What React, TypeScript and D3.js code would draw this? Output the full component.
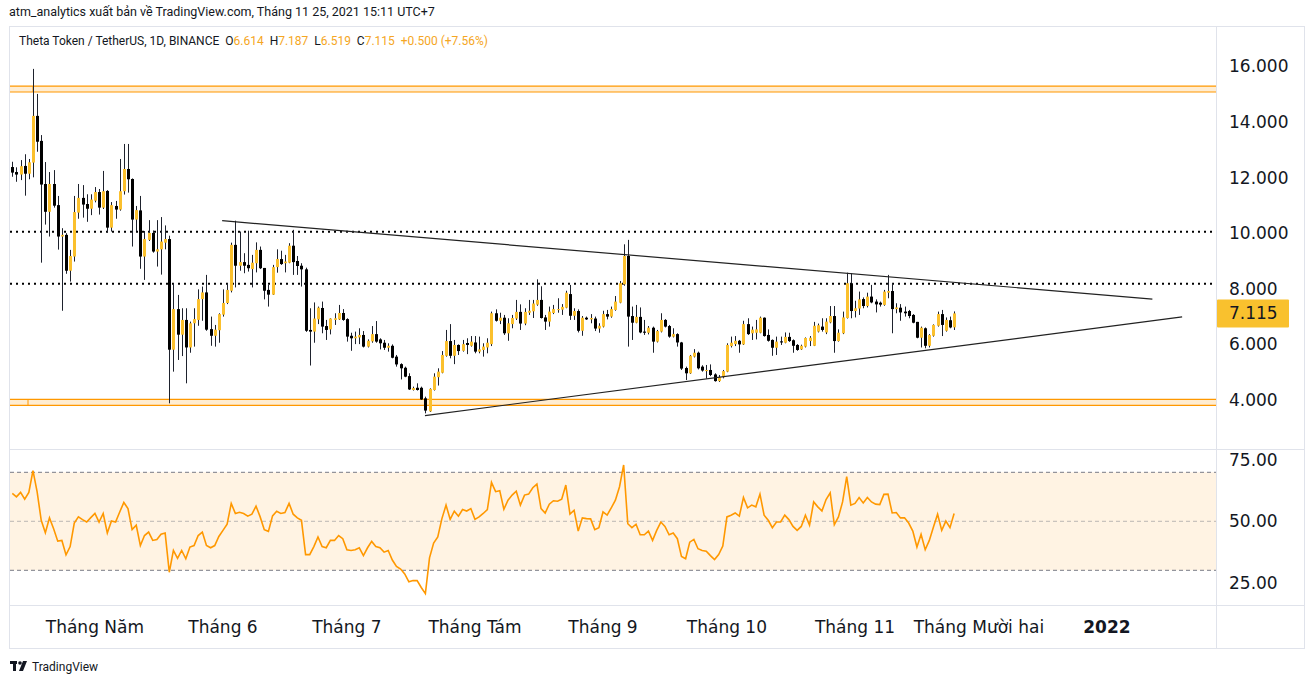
import React, { useEffect, useRef } from 'react';
import * as d3 from 'd3';

const START = Date.UTC(2021, 3, 11);
const DAY = 86400000;

// [open, high, low, close]
const ohlc: [number, number, number, number][] = [
  [12.38,12.57,12.03,12.18],[12.20,12.37,11.85,12.11],[12.11,12.63,11.91,12.41],[12.42,12.84,11.35,12.14],[12.14,12.67,11.94,12.55],
  [12.54,15.91,12.01,14.22],[14.22,15.01,12.93,13.29],[13.32,13.53,8.94,11.75],[11.77,12.56,10.31,10.77],[10.77,12.20,9.88,11.77],
  [11.77,12.27,10.92,10.99],[11.01,11.34,9.41,9.88],[9.88,10.18,7.21,9.94],[9.94,10.00,8.54,8.65],[8.65,9.40,8.26,9.18],
  [9.16,11.34,8.98,10.76],[10.74,11.77,10.52,11.27],[11.27,11.73,10.56,11.03],[11.05,11.40,10.41,10.88],[10.88,11.40,10.65,11.21],
  [11.17,11.66,11.11,11.48],[11.48,11.59,10.67,10.92],[10.92,12.24,10.87,11.51],[11.52,11.55,10.03,10.20],[10.20,11.12,10.06,11.01],
  [10.98,11.16,10.52,10.85],[10.85,12.67,10.81,11.51],[11.51,13.21,11.39,12.31],[12.31,13.21,11.46,11.94],[11.95,11.97,9.52,10.49],
  [10.49,10.98,10.07,10.83],[10.82,11.34,8.72,9.16],[9.16,10.08,8.32,9.79],[9.76,10.47,9.72,10.01],[10.01,10.10,9.30,9.34],
  [9.34,10.47,8.80,9.42],[9.42,10.58,8.51,9.70],[9.66,10.28,9.42,9.79],[9.79,9.91,3.88,5.81],[5.81,8.20,5.02,7.27],
  [7.27,7.78,5.44,6.35],[6.35,7.30,5.58,6.88],[6.88,7.30,4.60,5.89],[5.89,6.82,5.70,6.76],[6.76,7.30,5.92,6.91],
  [6.88,7.98,6.67,7.63],[7.63,8.08,6.85,7.87],[7.87,8.50,6.49,6.53],[6.55,7.00,5.95,6.31],[6.31,6.70,5.92,6.53],
  [6.51,7.12,6.06,7.09],[7.07,7.98,7.00,7.49],[7.49,8.20,7.45,7.96],[7.93,9.66,7.87,9.58],[9.58,10.45,8.05,8.83],
  [8.83,10.06,8.65,8.96],[8.96,9.28,8.56,8.83],[8.86,10.09,8.62,8.74],[8.71,9.22,8.05,8.94],[8.92,9.67,8.59,9.40],
  [9.40,9.52,8.71,8.74],[8.75,8.75,7.62,7.93],[7.96,8.14,7.36,7.79],[7.79,8.86,7.78,8.78],[8.78,9.42,8.58,9.07],
  [9.07,9.37,8.86,8.89],[8.92,9.22,8.59,8.98],[8.94,9.64,8.92,9.55],[9.55,10.12,8.50,8.96],[9.00,9.18,8.50,8.82],
  [8.83,8.92,8.08,8.70],[8.70,8.76,6.45,6.49],[6.52,7.30,5.24,6.46],[6.46,7.51,6.06,6.93],[6.90,7.36,6.73,7.32],
  [7.31,7.54,6.40,6.64],[6.66,6.88,6.16,6.52],[6.54,6.94,6.36,6.93],[6.88,7.12,6.70,6.94],[6.90,7.42,6.88,7.13],
  [7.13,7.27,6.85,6.88],[6.91,6.94,6.10,6.28],[6.31,6.42,5.77,6.22],[6.22,6.46,6.01,6.28],[6.25,6.58,6.01,6.34],
  [6.34,6.48,5.89,5.92],[5.92,6.18,5.89,6.13],[6.11,6.66,6.06,6.37],[6.37,6.84,6.06,6.10],[6.18,6.22,5.82,6.04],
  [6.06,6.16,5.80,5.88],[5.88,6.04,5.74,5.95],[5.95,6.00,5.50,5.52],[5.56,5.62,5.20,5.28],[5.29,5.32,4.74,5.14],
  [5.16,5.20,4.82,4.84],[4.86,4.96,4.36,4.38],[4.36,4.48,4.34,4.43],[4.44,4.60,4.34,4.36],[4.44,4.48,4.00,4.02],
  [4.06,4.12,3.52,3.62],[3.59,4.42,3.57,4.40],[4.36,4.96,4.34,4.84],[4.82,5.14,4.52,5.02],[4.98,5.76,4.96,5.62],
  [5.59,6.52,5.56,6.12],[6.12,6.73,5.50,5.59],[5.59,6.16,5.29,5.98],[5.98,6.00,5.62,5.76],[5.77,6.16,5.74,6.01],
  [6.05,6.22,5.65,5.98],[5.95,6.30,5.92,6.10],[6.07,6.30,5.68,5.74],[5.74,6.28,5.68,5.82],[5.80,6.04,5.56,5.92],
  [5.89,6.22,5.68,6.06],[6.01,7.18,5.94,7.12],[7.12,7.26,6.82,6.85],[6.85,7.14,6.73,6.96],[6.96,7.06,6.34,6.40],
  [6.40,6.94,6.13,6.76],[6.73,7.06,6.58,6.95],[6.93,7.60,6.88,7.17],[7.17,7.44,6.52,6.75],[6.75,7.30,6.69,7.17],
  [7.14,7.60,7.06,7.21],[7.19,7.60,6.95,7.47],[7.43,8.34,7.39,7.60],[7.60,8.09,6.93,6.95],[6.97,7.06,6.52,6.82],
  [6.82,7.36,6.64,7.18],[7.13,7.42,7.09,7.27],[7.24,7.66,7.14,7.27],[7.25,7.45,7.06,7.35],[7.32,7.93,7.30,7.86],
  [7.81,8.14,6.88,7.03],[7.03,7.30,6.88,7.20],[7.20,7.26,6.43,6.49],[6.49,7.02,6.31,6.96],[6.96,7.00,6.88,6.90],
  [6.90,7.09,6.76,6.95],[6.93,7.00,6.48,6.57],[6.57,6.76,6.42,6.67],[6.64,7.21,6.61,7.09],[7.09,7.24,6.90,7.00],
  [7.00,7.36,6.96,7.27],[7.24,7.74,7.21,7.54],[7.50,8.28,7.48,8.20],[8.16,9.60,8.11,9.18],[9.18,9.76,5.92,7.00],
  [7.02,7.36,6.16,6.78],[6.78,7.42,6.76,6.99],[6.99,7.33,6.40,6.43],[6.46,6.88,6.34,6.42],[6.42,6.66,6.36,6.60],
  [6.60,6.64,5.70,6.10],[6.10,6.52,6.07,6.48],[6.46,7.12,6.43,6.88],[6.88,6.91,6.61,6.64],[6.66,6.70,6.24,6.28],
  [6.28,6.58,6.25,6.37],[6.37,6.40,5.92,6.07],[6.07,6.09,5.08,5.13],[5.15,5.20,4.72,4.96],[4.96,5.62,4.94,5.59],
  [5.56,5.83,5.53,5.70],[5.70,5.74,5.10,5.14],[5.20,5.25,5.02,5.06],[5.04,5.26,4.77,5.08],[5.08,5.28,4.86,4.90],
  [4.92,4.96,4.66,4.68],[4.68,4.90,4.65,4.82],[4.82,5.08,4.78,5.04],[5.02,6.04,5.00,5.98],[5.94,6.28,5.89,6.06],
  [6.01,6.30,5.94,6.13],[6.13,6.16,5.70,6.00],[6.00,6.85,5.98,6.73],[6.73,6.94,6.34,6.37],[6.40,6.64,6.16,6.53],
  [6.42,6.88,6.18,6.54],[6.42,7.00,6.40,6.96],[6.96,6.97,6.28,6.30],[6.34,6.54,6.10,6.13],[6.16,6.18,5.59,5.88],
  [5.88,6.28,5.62,6.10],[6.11,6.28,5.98,6.07],[6.06,6.43,6.04,6.27],[6.27,6.42,6.09,6.12],[6.15,6.18,5.70,5.95],
  [5.98,6.01,5.77,5.80],[5.82,5.99,5.80,5.95],[5.92,6.25,5.89,6.23],[6.12,6.30,5.94,6.24],[5.95,6.81,5.94,6.67],
  [6.46,6.75,6.43,6.69],[6.64,6.94,6.46,6.52],[6.43,6.94,6.37,6.82],[6.79,7.38,6.76,7.02],[7.02,7.38,5.70,6.12],
  [6.12,6.54,6.10,6.42],[6.40,7.18,6.37,6.97],[6.95,8.58,6.93,8.20],[8.20,8.56,6.94,7.20],[7.20,7.57,6.97,7.30],
  [7.29,7.90,7.06,7.62],[7.63,7.69,7.30,7.38],[7.38,7.86,7.33,7.72],[7.72,8.14,7.48,7.51],[7.54,7.62,7.15,7.44],
  [7.50,7.54,7.36,7.43],[7.42,7.96,7.39,7.90],[7.86,8.50,7.66,7.92],[7.92,8.20,6.40,7.27],[7.27,7.48,7.12,7.33],
  [7.32,7.45,6.85,7.15],[7.18,7.36,7.00,7.12],[7.20,7.24,6.94,7.02],[7.06,7.09,6.76,6.78],[6.81,6.81,6.22,6.24],
  [6.24,6.64,5.89,6.60],[6.58,6.61,5.86,5.95],[5.95,6.37,5.89,6.34],[6.31,6.72,6.28,6.70],[6.67,7.18,6.64,7.09],
  [7.09,7.24,6.30,6.70],[6.49,6.97,6.46,6.88],[6.87,7.00,6.58,6.61],[6.614,7.187,6.519,7.115],
];

const rsi: number[] = [
  61.4,60.0,61.8,59.0,61.8,70.7,62.1,50.4,45.3,51.4,
  47.0,41.9,42.2,36.3,39.7,49.3,51.8,50.7,49.7,51.5,
  53.2,49.7,53.2,45.2,50.1,49.7,53.8,57.7,55.2,46.6,
  48.4,40.1,44.2,45.6,42.2,42.6,44.7,45.2,29.2,38.1,
  34.9,38.1,34.7,39.5,40.1,44.2,45.6,40.1,39.2,40.1,
  43.8,46.3,48.8,57.3,53.2,53.7,53.2,52.1,52.9,56.2,
  51.8,46.6,45.9,52.2,54.1,53.2,53.6,57.3,52.9,51.4,
  50.4,36.4,36.4,39.7,43.6,39.7,39.2,42.2,42.2,44.2,
  42.9,38.4,38.1,38.4,39.2,36.0,39.2,41.8,39.7,39.2,
  37.4,38.1,34.2,31.6,30.5,28.5,25.3,25.8,25.8,23.0,
  20.5,35.1,41.1,43.6,51.1,56.6,50.8,54.1,52.1,54.8,
  54.2,55.2,50.8,51.8,53.2,54.8,65.9,62.1,62.5,54.9,
  58.6,60.7,62.3,56.6,60.7,61.1,63.7,65.2,55.2,53.4,
  57.0,58.4,58.2,59.0,64.8,52.9,54.5,46.0,51.4,51.1,
  51.0,46.6,47.4,53.8,52.5,55.5,58.6,64.1,73.0,49.0,
  47.4,48.8,44.5,44.5,46.0,42.2,46.3,
  49.7,47.9,44.5,45.2,42.9,35.6,34.7,41.5,42.6,38.8,
  38.1,37.8,36.0,34.4,36.4,39.9,51.8,52.5,53.4,52.1,
  59.7,55.5,56.6,55.9,61.1,52.5,50.4,47.4,49.7,49.7,
  52.5,50.7,47.9,46.3,47.9,52.5,48.4,57.9,55.9,54.2,
  58.9,61.6,48.6,51.8,57.9,68.2,56.6,57.3,59.7,57.5,
  59.7,57.9,57.0,56.8,61.0,61.1,53.4,53.6,51.4,51.4,
  49.3,46.0,39.5,44.7,38.4,42.2,47.7,52.9,46.3,50.1,
  47.4,53.2,
];

const priceTicks = [4, 6, 8, 10, 12, 14, 16];
const rsiTicks = [25, 50, 75];
const rsiBands = [70, 50, 30];
const monthLabels = ['Tháng Năm', 'Tháng 6', 'Tháng 7', 'Tháng Tám', 'Tháng 9', 'Tháng 10', 'Tháng 11', 'Tháng Mười hai', '2022'];
const monthDates = [
  Date.UTC(2021, 4, 1), Date.UTC(2021, 5, 1), Date.UTC(2021, 6, 1), Date.UTC(2021, 7, 1), Date.UTC(2021, 8, 1),
  Date.UTC(2021, 9, 1), Date.UTC(2021, 10, 1), Date.UTC(2021, 11, 1), Date.UTC(2022, 0, 1),
];
// zones: [top price, bottom price, start day index]
const zones: [number, number, number][] = [[15.29, 15.08, 5], [4.025, 3.81, 3.8]];
const dottedLevels = [10.05, 8.18];
// trend lines: [day1, price1, day2, price2]
const trendLines: [number, number, number, number][] = [
  [50.8, 10.45, 276, 7.63],
  [99.9, 3.44, 283.2, 6.99],
];
const lastPrice = 7.115;

const UP = '#fbc02d';
const DOWN = '#000000';
const GRID = '#e0e3eb';
const TEXT = '#131722';
const FONT = 'Roboto, "Noto Sans", sans-serif';
const AXISFONT = '"DejaVu Sans", Verdana, sans-serif';

const L = 10, R = 1216, PT = 27, PB = 449, RT = 450, RB = 605, AB = 648, CR = 1304;

export default function App() {
  const axisRef = useRef<SVGGElement>(null);
  const x = d3.scaleUtc()
    .domain([new Date(START - 0.56 * DAY), new Date(START + 291.4 * DAY)])
    .range([L, R]);
  const y = d3.scaleLinear().domain([4, 16]).range([400, 66.4]);
  const ry = d3.scaleLinear().domain([30, 70]).range([570.3, 472.3]);
  const dx = (i: number) => x(new Date(START + i * DAY));

  const rsiLine = d3.line<number>().x((_, i) => dx(i)).y((v) => ry(v));

  useEffect(() => {
    if (!axisRef.current) return;
    const texts = d3.select(axisRef.current).selectAll<SVGTextElement, unknown>('text').nodes();
    let prevRight = -Infinity;
    texts.forEach((t) => {
      const b = t.getBBox();
      if (b.x < prevRight + 12) {
        const shift = prevRight + 12 - b.x;
        t.setAttribute('x', String(parseFloat(t.getAttribute('x') || '0') + shift));
        prevRight = b.x + shift + b.width;
      } else prevRight = b.x + b.width;
    });
  }, []);

  return (
    <svg width={1314} height={685} style={{ position: 'absolute', left: 0, top: 0, background: '#fff' }} fontFamily={FONT}>
      <defs>
        <clipPath id="pp"><rect x={L} y={PT} width={R - L} height={PB - PT} /></clipPath>
        <clipPath id="rp"><rect x={L} y={RT} width={R - L} height={RB - RT} /></clipPath>
      </defs>
      <text x={9} y={16} fontSize={12.5} fill={TEXT}>atm_analytics xuất bản về TradingView.com, Tháng 11 25, 2021 15:11 UTC+7</text>

      {/* frame */}
      <rect x={9.5} y={26.5} width={CR - 9} height={AB - 26} fill="none" stroke={GRID} />
      <line x1={R + 0.5} x2={R + 0.5} y1={PT} y2={AB} stroke={GRID} />
      <line x1={L} x2={CR} y1={PB + 0.5} y2={PB + 0.5} stroke={GRID} />
      <line x1={L} x2={CR} y1={RB + 0.5} y2={RB + 0.5} stroke={GRID} />

      {/* price pane */}
      <g clipPath="url(#pp)">
        {zones.map(([t, b, s], k) => (
          <g key={k}>
            <rect x={L} y={y(t)} width={R - L} height={y(b) - y(t)} fill="#ffe9c7" opacity={0.8} />
            <line x1={L} x2={R} y1={y(t)} y2={y(t)} stroke="#ff9800" strokeWidth={1.2} />
            <line x1={L} x2={R} y1={y(b)} y2={y(b)} stroke="#ff9800" strokeWidth={1.2} />
            <line x1={dx(s)} x2={dx(s)} y1={y(t)} y2={y(b)} stroke="#ff9800" strokeWidth={1} />
          </g>
        ))}
        {dottedLevels.map((p, k) => (
          <line key={k} x1={L} x2={R} y1={y(p)} y2={y(p)} stroke="#000" strokeWidth={2} strokeDasharray="2 4" />
        ))}
        {ohlc.map(([o, h, l, c], i) => {
          const cx = Math.round(dx(i));
          const up = c >= o;
          const top = y(Math.max(o, c));
          const bot = y(Math.min(o, c));
          return (
            <g key={i}>
              <line x1={cx + 0.5} x2={cx + 0.5} y1={y(h)} y2={y(l)} stroke="#1e222d" strokeWidth={1} />
              <rect x={cx - 1} y={top} width={3} height={Math.max(1, bot - top)} fill={up ? UP : DOWN} />
            </g>
          );
        })}
        {trendLines.map(([d1, p1, d2, p2], k) => (
          <line key={k} x1={dx(d1)} y1={y(p1)} x2={dx(d2)} y2={y(p2)} stroke="#222" strokeWidth={1.2} />
        ))}
      </g>

      {/* legend */}
      <g fontSize={12}>
        <text x={19} y={45} fill={TEXT}>
          Theta Token / TetherUS, 1D, BINANCE{'\u00a0\u00a0'}O<tspan fill="#f5a623">6.614</tspan>{'\u00a0\u00a0'}H<tspan fill="#f5a623">7.187</tspan>{'\u00a0\u00a0'}L<tspan fill="#f5a623">6.519</tspan>{'\u00a0\u00a0'}C<tspan fill="#f5a623">7.115</tspan>{'\u00a0\u00a0'}<tspan fill="#f5a623">+0.500 (+7.56%)</tspan>
        </text>
      </g>

      {/* price axis */}
      <g fontSize={17} fill={TEXT} fontFamily={AXISFONT}>
        {priceTicks.map((p) => (
          <text key={p} x={1229} y={y(p)} dy="0.35em">{p.toFixed(3)}</text>
        ))}
        <rect x={R + 1} y={y(lastPrice) - 14} width={72} height={28} fill="#f9c12e" rx={1} />
        <text x={1229} y={y(lastPrice)} dy="0.35em">{lastPrice.toFixed(3)}</text>
        {rsiTicks.map((v) => (
          <text key={v} x={1229} y={ry(v)} dy="0.35em">{v.toFixed(2)}</text>
        ))}
      </g>

      {/* RSI pane */}
      <g clipPath="url(#rp)">
        <rect x={L} y={ry(70)} width={R - L} height={ry(30) - ry(70)} fill="#fff3e3" />
        {rsiBands.map((v) => (
          <line key={v} x1={L} x2={R} y1={ry(v)} y2={ry(v)} stroke="#787b86" strokeOpacity={v === 50 ? 0.5 : 1} strokeDasharray="4 3" />
        ))}
        <path d={rsiLine(rsi) || ''} fill="none" stroke="#ff9800" strokeWidth={1.6} />
      </g>

      {/* time axis */}
      <g ref={axisRef} fontSize={17} fill={TEXT} fontFamily={AXISFONT}>
        {monthLabels.map((m, k) => (
          <text key={m} x={x(new Date(monthDates[k]))} y={627} dy="0.35em" textAnchor="middle" fontWeight={k === monthLabels.length - 1 ? 'bold' : 'normal'}>{m}</text>
        ))}
      </g>

      {/* logo */}
      <g transform="translate(10,661)" fill={TEXT}>
        <rect x={0} y={0} width={7} height={3} />
        <rect x={3} y={0} width={3} height={10} />
        <circle cx={10} cy={2} r={1.8} />
        <path d="M13,0 L17,0 L13,10 L9,10 Z" />
        <text x={22} y={10} fontSize={12}>TradingView</text>
      </g>
    </svg>
  );
}
